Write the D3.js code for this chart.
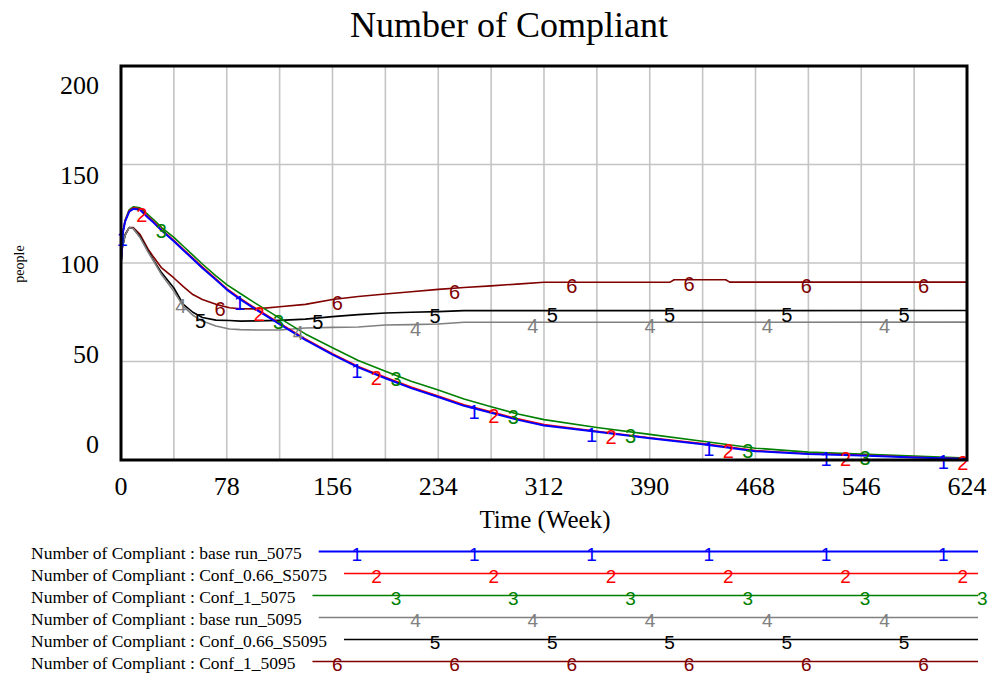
<!DOCTYPE html>
<html><head><meta charset="utf-8">
<script src="https://cdn.jsdelivr.net/npm/d3@7"></script>
<style>body{margin:0;background:#fff}</style>
</head><body><svg id="c" width="995" height="676"></svg>
<script>
// ---- data ----
const weeksA = [0, 1, 3, 6, 9, 14, 20, 24, 30, 39, 46, 53, 60, 70, 78, 88, 97, 117, 136, 156, 175, 195, 214, 234, 253, 273, 292, 312, 351, 390, 429, 468, 507, 546, 585, 624];
const baseRun5075 = [100, 114, 121, 126, 127.5, 127, 123, 120.5, 116.5, 111, 106.5, 102, 97.5, 91.5, 86.5, 81.5, 77.5, 69, 61, 53.5, 47, 41.5, 36.5, 32, 27.5, 24, 20.5, 17.5, 14.3, 11, 8, 4.5, 3, 2.3, 1.3, 0.5];
const conf066S5075 = [100, 114, 121.5, 126.5, 128, 127.5, 123.5, 121, 117, 111.5, 107, 102.5, 98, 92, 87, 82, 78, 69.5, 61.5, 54, 47.5, 42, 37, 32.5, 28, 24.5, 21, 18, 14.6, 11.3, 8.3, 4.8, 3.2, 2.5, 1.4, 0.6];
const conf1_5075 = [100, 114, 121.5, 127, 128.5, 128, 124.5, 122, 118, 113, 108.5, 104, 99.5, 93.5, 89, 84.5, 80.5, 72, 64, 57, 50.5, 45, 40, 35.5, 31, 27, 23.5, 20.5, 16.5, 13, 9.5, 6, 4, 3, 2, 1];

const weeksB = [0, 1, 3, 6, 9, 14, 20, 24, 30, 39, 46, 53, 60, 70, 80, 88, 100, 117, 136, 156, 175, 195, 214, 234, 253, 273, 292, 312, 405, 408, 446, 449, 624];
const baseRun5095 = [100, 108, 114, 118, 117.5, 113, 105.5, 101, 94, 85.6, 78, 73.5, 70.5, 68, 66.5, 66.2, 66, 66, 67, 67.3, 67.5, 68.5, 68.7, 69, 69.9, 69.9, 69.9, 69.9, 69.9, 69.9, 69.9, 69.9, 70];
const conf066S5095 = [100, 108, 114, 118, 117.5, 113.5, 106, 101.5, 95, 87.3, 79, 75, 72.3, 71, 70.8, 70.5, 70.6, 70.9, 71.5, 72.8, 73.8, 74.6, 75, 75.3, 75.8, 75.8, 75.8, 75.8, 75.8, 75.8, 75.8, 75.8, 75.9];
const conf1_5095 = [100, 108, 114.5, 118, 118, 114.5, 107, 103, 97.5, 92.4, 88, 84, 81.5, 79, 77.3, 76.8, 76.7, 77.8, 79, 81.5, 83, 84.3, 85.4, 86.6, 87.6, 88.4, 89.3, 90.2, 90.3, 91.5, 91.5, 90.3, 90.3];

const seriesNames = [
  "Number of Compliant : base run_5075",
  "Number of Compliant : Conf_0.66_S5075",
  "Number of Compliant : Conf_1_5075",
  "Number of Compliant : base run_5095",
  "Number of Compliant : Conf_0.66_S5095",
  "Number of Compliant : Conf_1_5095"
];
const seriesLabels = ["1", "2", "3", "4", "5", "6"];
const xTicks = [0, 78, 156, 234, 312, 390, 468, 546, 624];
const yTicks = [0, 50, 100, 150, 200];

// ---- styles ----
const colors = ["#0000ff", "#ff0000", "#008000", "#808080", "#000000", "#800000"];
const widths = [2, 1.6, 1.6, 1.6, 1.6, 1.6];
const series = [
  {w: weeksA, v: baseRun5075}, {w: weeksA, v: conf066S5075}, {w: weeksA, v: conf1_5075},
  {w: weeksB, v: baseRun5095}, {w: weeksB, v: conf066S5095}, {w: weeksB, v: conf1_5095}
].map((d, i) => ({...d, name: seriesNames[i], label: seriesLabels[i], color: colors[i], width: widths[i], idx: i}));

const svg = d3.select("#c");
const m = {left: 121, right: 967, top: 66, bottom: 460};
const x = d3.scaleLinear().domain([0, 624]).range([m.left, m.right]);
const y = d3.scaleLinear().domain([0, 200]).range([m.bottom, m.top]);
// Vensim places y tick labels on a slightly compressed range
const yLab = d3.scaleLinear().domain([0, 200]).range([m.bottom - 7.5, m.top + 28]);
const serif = "'Liberation Serif','Times New Roman',serif";
const sans = "'Liberation Sans',Arial,sans-serif";

// title
svg.append("text").attr("x", 509).attr("y", 37).attr("text-anchor", "middle")
  .style("font-family", serif).style("font-size", "36px").text("Number of Compliant");

// grid
const g = svg.append("g");
g.selectAll("line.vx").data(d3.range(39, 624, 39)).join("line")
  .attr("x1", d => x(d)).attr("x2", d => x(d)).attr("y1", m.top).attr("y2", m.bottom)
  .attr("stroke", "#c4c4c4").attr("stroke-width", 1.6);
g.selectAll("line.hy").data([50, 100, 150]).join("line")
  .attr("x1", m.left).attr("x2", m.right).attr("y1", d => y(d)).attr("y2", d => y(d))
  .attr("stroke", "#c4c4c4").attr("stroke-width", 1.6);

// clip
svg.append("clipPath").attr("id", "clip").append("rect")
  .attr("x", m.left).attr("y", m.top).attr("width", m.right - m.left).attr("height", m.bottom - m.top);

const line = d3.line().x(d => x(d[0])).y(d => y(d[1]));
const lg = svg.append("g").attr("clip-path", "url(#clip)");
series.slice().reverse().forEach(s => {
  lg.append("path").datum(s.w.map((t, i) => [t, s.v[i]]))
    .attr("d", line).attr("fill", "none").attr("stroke", s.color).attr("stroke-width", s.width)
    .attr("stroke-linejoin", "round");
});

// markers
const markStep = 86.5, markFirst = 1, markOffset = 14.4;
function valueAt(s, t) {
  const i = d3.bisectRight(s.w, t);
  if (i <= 0) return s.v[0];
  if (i >= s.w.length) return s.v[s.v.length - 1];
  const t0 = s.w[i - 1], t1 = s.w[i];
  return s.v[i - 1] + (s.v[i] - s.v[i - 1]) * (t - t0) / (t1 - t0);
}
series.forEach(s => {
  const first = markFirst + markOffset * s.idx;
  const ts = d3.range(first, 624.01, markStep);
  svg.append("g").selectAll("text").data(ts).join("text")
    .attr("x", t => x(t)).attr("y", t => y(valueAt(s, t)) + 11)
    .attr("text-anchor", "middle").attr("fill", s.color)
    .style("font-family", sans).style("font-size", "20px").text(s.label);
});

// frame
svg.append("rect").attr("x", m.left).attr("y", m.top).attr("width", m.right - m.left)
  .attr("height", m.bottom - m.top).attr("fill", "none").attr("stroke", "#000").attr("stroke-width", 3);

// tick labels
svg.append("g").selectAll("text").data(xTicks).join("text")
  .attr("x", d => x(d)).attr("y", 495).attr("text-anchor", "middle")
  .style("font-family", serif).style("font-size", "26px").text(d => d);
svg.append("g").selectAll("text").data(yTicks).join("text")
  .attr("x", 99).attr("y", d => yLab(d)).attr("text-anchor", "end")
  .style("font-family", serif).style("font-size", "26px").text(d => d);

// axis titles
svg.append("text").attr("x", 545).attr("y", 528).attr("text-anchor", "middle")
  .style("font-family", serif).style("font-size", "25px").text("Time (Week)");
svg.append("text").attr("transform", "translate(24,264) rotate(-90)").attr("text-anchor", "middle")
  .style("font-family", serif).style("font-size", "14px").text("people");

// legend
const legTop = 551.5, legStep = 22, legEnd = 978;
series.forEach((s, i) => {
  const ly = legTop + i * legStep;
  const txt = svg.append("text").attr("x", 31).attr("y", ly + 7)
    .style("font-family", serif).style("font-size", "17.5px").text(s.name);
  const start = 31 + txt.node().getComputedTextLength() + 17;
  svg.append("line").attr("x1", start).attr("x2", legEnd).attr("y1", ly).attr("y2", ly)
    .attr("stroke", s.color).attr("stroke-width", s.width);
  const first = markFirst + markOffset * s.idx;
  const ts = d3.range(first, 700, markStep).filter(t => x(t) > start && x(t) <= 990);
  svg.append("g").selectAll("text").data(ts).join("text")
    .attr("x", t => x(t)).attr("y", ly + 9).attr("text-anchor", "middle").attr("fill", s.color)
    .style("font-family", sans).style("font-size", "19px").text(s.label);
});
</script>
</body></html>
